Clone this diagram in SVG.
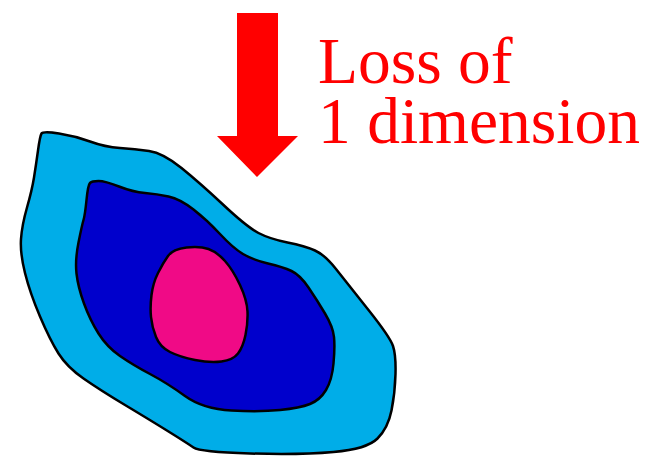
<svg xmlns="http://www.w3.org/2000/svg" width="648" height="456" viewBox="0 0 648 456">
<style>
.blob{stroke:#000;stroke-width:2.5;stroke-linejoin:round}
.lbl{font-family:"Liberation Serif","Times New Roman",serif;font-size:65.5px;fill:#FF0000}
</style>
<rect width="648" height="456" fill="#fff"/>
<g id="outer">
<path class="blob" fill="#00ADE8" d="M41.5,133.5 Q43,131 59,133.5 Q75,136 90,141.5 Q105,147 120,148 Q135,149 149,151 Q163,153 181.5,168 Q200,183 223.5,205 Q247,227 258.5,233 Q270,239 287.5,242.5 Q305,246 315,250.5 Q325,255 336,269 Q347,283 368.5,310 Q390,337 393,346 Q396,355 395.5,374 Q395,393 391.5,410.5 Q388,428 377.5,438.5 Q367,449 333.5,452 Q300,455 250,453.5 Q200,452 193.5,447.5 Q187,443 168.5,431.5 Q150,420 125,405 Q100,390 83.5,378.5 Q67,367 58.5,353.5 Q50,340 40,316.5 Q30,293 25,273 Q20,253 21,239 Q22,225 27,207.5 Q32,190 34,177.5 Q36,165 38,150.5 Q40,136 41.5,133.5 Z"/>
</g>
<g id="middle">
<path class="blob" fill="#0000CC" d="M90,183 Q92,181 98.5,181 Q105,181 119,186.5 Q133,192 145,193 Q157,194 168.5,196.5 Q180,199 193.5,209.5 Q207,220 220,234 Q233,248 243,254 Q253,260 268,263.5 Q283,267 291.5,271 Q300,275 308.5,287.5 Q317,300 325,313.5 Q333,327 334,337 Q335,347 333.5,363.5 Q332,380 326,390 Q320,400 310,404 Q300,408 280,410 Q260,412 231.5,410.5 Q203,409 185,396 Q167,383 150,374 Q133,365 120,356 Q107,347 98.5,333.5 Q90,320 84,303.5 Q78,287 76.5,273.5 Q75,260 78.5,242.5 Q82,225 83.5,220 Q85,215 86.5,200 Q88,185 90,183 Z"/>
</g>
<g id="inner">
<path class="blob" fill="#F00A86" d="M168,256 Q173,249 186.5,247.5 Q200,246 208.5,249 Q217,252 225,261 Q233,270 240,285 Q247,300 247.5,311.5 Q248,323 245.5,335 Q243,347 238,353.5 Q233,360 221.5,361.5 Q210,363 195,360 Q180,357 170,352 Q160,347 156,337 Q152,327 151,317 Q150,307 151.5,295 Q153,283 158,273 Q163,263 168,256 Z"/>
</g>
<g id="arrow">
<polygon fill="#FF0000" points="237,13 278,13 278,136 298,136 257,177 217,136 237,136"/>
</g>
<g id="label">
<text class="lbl" x="318" y="83">Loss of</text>
<text class="lbl" x="318" y="142.5">1 dimension</text>
</g>
</svg>
